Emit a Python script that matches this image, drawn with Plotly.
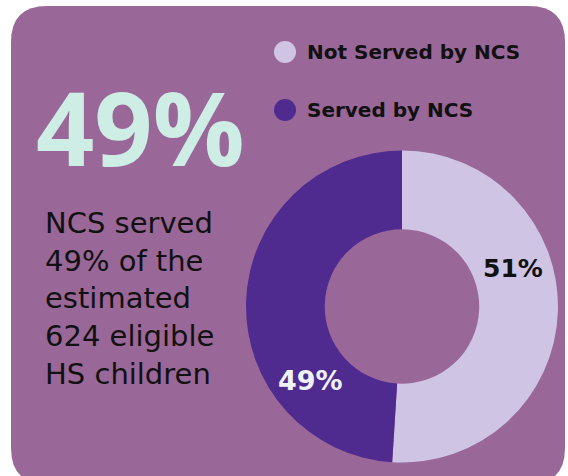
import plotly.graph_objects as go

labels = ["Not Served by NCS", "Served by NCS"]
values = [51, 49]
colors = ["#D0C4E4", "#4F2B8F"]
headline = "49%"
body_lines = ["NCS served", "49% of the", "estimated", "624 eligible", "HS children"]

W, H = 568, 476
fig = go.Figure()

fig.add_trace(go.Pie(
    labels=labels, values=values, hole=0.495, sort=False,
    direction="clockwise", rotation=0,
    marker=dict(colors=colors, line=dict(width=0)),
    textinfo="none", hoverinfo="label+percent", showlegend=False,
    domain=dict(x=[246/W, 558/W], y=[1-463/H, 1-150/H]),
))

# rounded background panel
x0, x1, y0, y1, r = 11, 565, 6, 484, 36
def px(x): return x / W
def py(y): return 1 - y / H
path = (f"M {px(x0+r)},{py(y0)} L {px(x1-r)},{py(y0)} "
        f"Q {px(x1)},{py(y0)} {px(x1)},{py(y0+r)} L {px(x1)},{py(y1-r)} "
        f"Q {px(x1)},{py(y1)} {px(x1-r)},{py(y1)} L {px(x0+r)},{py(y1)} "
        f"Q {px(x0)},{py(y1)} {px(x0)},{py(y1-r)} L {px(x0)},{py(y0+r)} "
        f"Q {px(x0)},{py(y0)} {px(x0+r)},{py(y0)} Z")
shapes = [dict(type="path", path=path, xref="paper", yref="paper",
               fillcolor="#9A6799", line=dict(width=0), layer="below")]

# legend circles
leg_y = [52, 110]
for yy, c in zip(leg_y, colors):
    shapes.append(dict(type="circle", xref="paper", yref="paper",
                       x0=px(274), x1=px(296), y0=py(yy+11), y1=py(yy-11),
                       fillcolor=c, line=dict(width=0)))

ann = []
for yy, lab in zip(leg_y, labels):
    ann.append(dict(x=px(305), y=py(yy), xref="paper", yref="paper", text=f"<b>{lab}</b>",
                    showarrow=False, xanchor="left", yanchor="middle",
                    font=dict(family="DejaVu Sans, sans-serif", size=20, color="#111111")))

ann.append(dict(x=px(34), y=py(127), xref="paper", yref="paper", text=f"<b>{headline}</b>",
                showarrow=False, xanchor="left", yanchor="middle",
                font=dict(family="Open Sans, sans-serif", size=102, color="#CDEDE5")))

ann.append(dict(x=px(43), y=py(298), xref="paper", yref="paper", text="<br>".join(body_lines),
                showarrow=False, xanchor="left", yanchor="middle", align="left",
                font=dict(family="DejaVu Sans, sans-serif", size=29, color="#111111")))

total = sum(values)
ann.append(dict(x=px(513), y=py(268), xref="paper", yref="paper",
                text=f"<b>{round(values[0]*100/total)}%</b>", showarrow=False,
                xanchor="center", yanchor="middle",
                font=dict(family="DejaVu Sans, sans-serif", size=25, color="#111111")))
ann.append(dict(x=px(310), y=py(380), xref="paper", yref="paper",
                text=f"<b>{round(values[1]*100/total)}%</b>", showarrow=False,
                xanchor="center", yanchor="middle",
                font=dict(family="DejaVu Sans, sans-serif", size=27, color="#EEF2F7")))

fig.update_layout(width=W, height=H, margin=dict(l=0, r=0, t=0, b=0),
                  paper_bgcolor="white", plot_bgcolor="white",
                  shapes=shapes, annotations=ann)
fig.write_html("out.html", config={"displayModeBar": False},
               post_script="document.body.style.margin='0';document.documentElement.style.overflow='hidden';")
